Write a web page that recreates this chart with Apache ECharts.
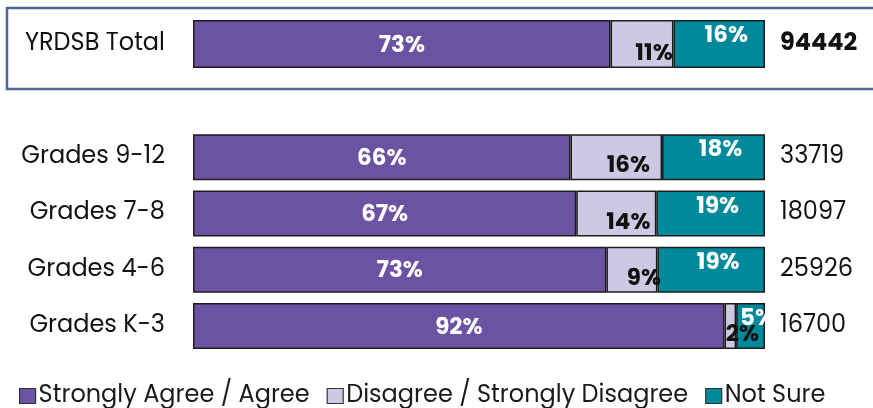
<!DOCTYPE html>
<html>
<head>
<meta charset="utf-8">
<script src="https://cdn.jsdelivr.net/npm/echarts@6/dist/echarts.min.js"></script>
<style>
  html, body { margin: 0; padding: 0; background: #fff; }
  #chart { width: 873px; height: 408px; }
</style>
</head>
<body>
<div id="chart"></div>
<script>
// data
var totalLabel = ['YRDSB Total'];
var totalAgree = [73];
var totalDisagree = [11];
var totalNotSure = [16];
var totalCount = ['94442'];

var grades = ['Grades K-3', 'Grades 4-6', 'Grades 7-8', 'Grades 9-12'];
var agree = [92, 73, 67, 66];
var disagree = [2, 9, 14, 16];
var notSure = [5, 19, 19, 18];
var counts = ['16700', '25926', '18097', '33719'];

var seriesNames = ['Strongly Agree / Agree', 'Disagree / Strongly Disagree', 'Not Sure'];
var colors = ['#6b52a3', '#cdc9e3', '#00899a'];

var FONT = 'Poppins, "Open Sans", sans-serif';

// rows don't always add to exactly 100, so each bar fills the full width
function makeData(vals, a, b, c) {
  return vals.map(function (v, i) {
    var sum = a[i] + b[i] + c[i];
    return { value: v / sum * 100, raw: v };
  });
}

var labelCfg = [
  { show: true, position: 'inside', color: '#fff' },
  { show: true, position: 'insideBottom', color: '#111', distance: 0 },
  { show: true, position: 'insideTop', color: '#fff', distance: 0 }
];
// nudges so the labels sit where the original puts them
var labelShift = [
  { dx: 0, dy: 2 },
  { dx: 12, dy: -2 },
  { dx: 7, dy: 5 }
];
// black labels spill over the teal bars, so that series goes on top
var seriesZ = [2, 4, 2];

function buildSeries(idx, a, b, c, barW) {
  return [a, b, c].map(function (vals, k) {
    var lab = Object.assign({
      fontSize: 23, fontWeight: 'bold', fontFamily: FONT,
      overflow: 'none',
      formatter: function (p) { return p.data.raw + '%'; }
    }, labelCfg[k]);
    return {
      name: seriesNames[k],
      type: 'bar',
      stack: 'st' + idx,
      xAxisIndex: idx,
      yAxisIndex: idx * 2,
      barWidth: barW,
      z: seriesZ[k],
      data: makeData(vals, a, b, c),
      itemStyle: { color: colors[k], borderColor: '#1c1c1c', borderWidth: 1.5 },
      label: lab,
      labelLayout: { hideOverlap: false, dx: labelShift[k].dx, dy: labelShift[k].dy },
      silent: true
    };
  });
}

var chart = echarts.init(document.getElementById('chart'));

var option = {
  animation: false,
  graphic: [{
    type: 'rect',
    shape: { x: 7, y: 8, width: 880, height: 81 },
    style: { fill: 'none', stroke: '#4d6898', lineWidth: 2.5 },
    z: -1
  }],
  legend: {
    left: 14,
    top: 379,
    itemWidth: 16,
    itemHeight: 15,
    itemGap: 17,
    icon: 'rect',
    data: seriesNames.map(function (n) {
      return { name: n, itemStyle: { borderColor: '#333', borderWidth: 1.2 } };
    }),
    textStyle: { fontSize: 24, color: '#1a1a1a', fontFamily: FONT, padding: [0, 0, 0, -2] }
  },
  grid: [
    { left: 193, width: 572, top: 20, height: 48 },
    { left: 193, width: 572, top: 129, height: 225 }
  ],
  xAxis: [
    { gridIndex: 0, type: 'value', min: 0, max: 100, show: false },
    { gridIndex: 1, type: 'value', min: 0, max: 100, show: false }
  ],
  yAxis: [
    {
      gridIndex: 0, type: 'category', data: totalLabel,
      axisLine: { show: false }, axisTick: { show: false },
      axisLabel: { fontSize: 24, color: '#111', fontFamily: FONT, margin: 28, padding: [3, 0, 0, 0] }
    },
    {
      gridIndex: 0, type: 'category', position: 'right', data: totalCount,
      axisLine: { show: false }, axisTick: { show: false },
      axisLabel: { fontSize: 24, fontWeight: 'bold', color: '#111', fontFamily: FONT, margin: 15, padding: [3, 0, 0, 0] }
    },
    {
      gridIndex: 1, type: 'category', data: grades,
      axisLine: { show: false }, axisTick: { show: false },
      axisLabel: { fontSize: 24, color: '#111', fontFamily: FONT, margin: 28, padding: [3, 0, 0, 0] }
    },
    {
      gridIndex: 1, type: 'category', position: 'right', data: counts,
      axisLine: { show: false }, axisTick: { show: false },
      axisLabel: { fontSize: 24, color: '#111', fontFamily: FONT, margin: 15, padding: [3, 0, 0, 0] }
    }
  ],
  series: [].concat(
    buildSeries(0, totalAgree, totalDisagree, totalNotSure, 48),
    buildSeries(1, agree, disagree, notSure, 46)
  )
};

chart.setOption(option);
</script>
</body>
</html>
